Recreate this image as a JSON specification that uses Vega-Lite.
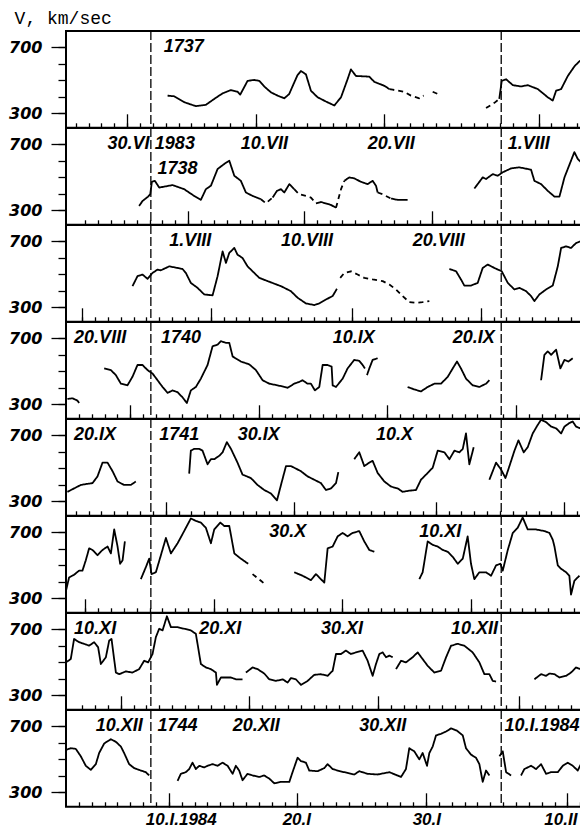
{
  "$schema": "https://vega.github.io/schema/vega-lite/v6.json",
  "padding": {"left": 7, "top": 10, "right": 0, "bottom": 0},
  "background": "white",
  "bounds": "flush",
  "spacing": 0,
  "title": {"text": "V, km/sec", "anchor": "start", "frame": "bounds", "dx": 7, "font": "Liberation Mono", "fontSize": 18, "fontWeight": "normal", "color": "black", "offset": 1},
  "config": {
    "view": {"stroke": "black", "strokeWidth": 2},
    "axis": {"domain": false, "grid": false, "tickColor": "black", "tickWidth": 1.3, "labelColor": "black", "title": null}
  },
  "datasets": {
    "crstart": [{"day": 0}, {"day": 27.25}],
    "labels": [
      {"panel": 1, "tier": "top", "day": 1.0, "text": "1737"},
      {"panel": 2, "tier": "top", "day": -3.38, "text": "30.VI"},
      {"panel": 2, "tier": "top", "day": 0.31, "text": "1983"},
      {"panel": 2, "tier": "top", "day": 7.0, "text": "10.VII"},
      {"panel": 2, "tier": "top", "day": 16.86, "text": "20.VII"},
      {"panel": 2, "tier": "top", "day": 27.76, "text": "1.VIII"},
      {"panel": 2, "tier": "second", "day": 0.52, "text": "1738"},
      {"panel": 3, "tier": "top", "day": 1.43, "text": "1.VIII"},
      {"panel": 3, "tier": "top", "day": 10.12, "text": "10.VIII"},
      {"panel": 3, "tier": "top", "day": 20.36, "text": "20.VIII"},
      {"panel": 4, "tier": "top", "day": -5.97, "text": "20.VIII"},
      {"panel": 4, "tier": "top", "day": 0.78, "text": "1740"},
      {"panel": 4, "tier": "top", "day": 14.14, "text": "10.IX"},
      {"panel": 4, "tier": "top", "day": 23.48, "text": "20.IX"},
      {"panel": 5, "tier": "top", "day": -5.97, "text": "20.IX"},
      {"panel": 5, "tier": "top", "day": 0.65, "text": "1741"},
      {"panel": 5, "tier": "top", "day": 6.75, "text": "30.IX"},
      {"panel": 5, "tier": "top", "day": 17.51, "text": "10.X"},
      {"panel": 6, "tier": "top", "day": 9.21, "text": "30.X"},
      {"panel": 6, "tier": "top", "day": 20.88, "text": "10.XI"},
      {"panel": 7, "tier": "top", "day": -5.97, "text": "10.XI"},
      {"panel": 7, "tier": "top", "day": 3.76, "text": "20.XI"},
      {"panel": 7, "tier": "top", "day": 13.23, "text": "30.XI"},
      {"panel": 7, "tier": "top", "day": 23.35, "text": "10.XII"},
      {"panel": 8, "tier": "top", "day": -4.28, "text": "10.XII"},
      {"panel": 8, "tier": "top", "day": 0.52, "text": "1744"},
      {"panel": 8, "tier": "top", "day": 6.36, "text": "20.XII"},
      {"panel": 8, "tier": "top", "day": 16.21, "text": "30.XII"},
      {"panel": 8, "tier": "top", "day": 27.5, "text": "10.I.1984"},
      {"panel": 8, "tier": "below", "day": -0.39, "text": "10.I.1984"},
      {"panel": 8, "tier": "below", "day": 10.25, "text": "20.I"},
      {"panel": 8, "tier": "below", "day": 20.36, "text": "30.I"},
      {"panel": 8, "tier": "below", "day": 30.6, "text": "10.II"}
    ],
    "speed": [
      {"panel":1,"seg":1,"style":"solid","day":1.3,"v":406},
      {"panel":1,"seg":1,"style":"solid","day":1.82,"v":402},
      {"panel":1,"seg":1,"style":"solid","day":2.59,"v":366},
      {"panel":1,"seg":1,"style":"solid","day":3.5,"v":342},
      {"panel":1,"seg":1,"style":"solid","day":4.28,"v":350},
      {"panel":1,"seg":1,"style":"solid","day":4.93,"v":386},
      {"panel":1,"seg":1,"style":"solid","day":5.58,"v":420},
      {"panel":1,"seg":1,"style":"solid","day":6.23,"v":440},
      {"panel":1,"seg":1,"style":"solid","day":6.74,"v":430},
      {"panel":1,"seg":1,"style":"solid","day":6.95,"v":412},
      {"panel":1,"seg":1,"style":"solid","day":7.52,"v":496},
      {"panel":1,"seg":1,"style":"solid","day":8.04,"v":502},
      {"panel":1,"seg":1,"style":"solid","day":8.43,"v":496},
      {"panel":1,"seg":1,"style":"solid","day":8.82,"v":462},
      {"panel":1,"seg":1,"style":"solid","day":9.34,"v":426},
      {"panel":1,"seg":1,"style":"solid","day":9.86,"v":406},
      {"panel":1,"seg":1,"style":"solid","day":10.38,"v":390},
      {"panel":1,"seg":1,"style":"solid","day":10.76,"v":416},
      {"panel":1,"seg":1,"style":"solid","day":11.15,"v":486},
      {"panel":1,"seg":1,"style":"solid","day":11.4,"v":530},
      {"panel":1,"seg":1,"style":"solid","day":11.67,"v":556},
      {"panel":1,"seg":1,"style":"solid","day":12.06,"v":536},
      {"panel":1,"seg":1,"style":"solid","day":12.45,"v":436},
      {"panel":1,"seg":1,"style":"solid","day":12.97,"v":396},
      {"panel":1,"seg":1,"style":"solid","day":13.62,"v":370},
      {"panel":1,"seg":1,"style":"solid","day":14.27,"v":346},
      {"panel":1,"seg":1,"style":"solid","day":14.79,"v":396},
      {"panel":1,"seg":1,"style":"solid","day":15.3,"v":506},
      {"panel":1,"seg":1,"style":"solid","day":15.56,"v":566},
      {"panel":1,"seg":1,"style":"solid","day":15.95,"v":526},
      {"panel":1,"seg":1,"style":"solid","day":16.99,"v":522},
      {"panel":1,"seg":1,"style":"solid","day":17.38,"v":490},
      {"panel":1,"seg":1,"style":"solid","day":18.16,"v":466},
      {"panel":1,"seg":1,"style":"solid","day":18.55,"v":446},
      {"panel":1,"seg":2,"style":"dash","day":18.55,"v":446},
      {"panel":1,"seg":2,"style":"dash","day":18.81,"v":442},
      {"panel":1,"seg":2,"style":"dash","day":19.69,"v":430},
      {"panel":1,"seg":2,"style":"dash","day":20.23,"v":406},
      {"panel":1,"seg":2,"style":"dash","day":20.88,"v":390},
      {"panel":1,"seg":2,"style":"dash","day":21.22,"v":406},
      {"panel":1,"seg":3,"style":"dash","day":21.92,"v":430},
      {"panel":1,"seg":3,"style":"dash","day":22.31,"v":416},
      {"panel":1,"seg":4,"style":"dash","day":26.07,"v":330},
      {"panel":1,"seg":4,"style":"dash","day":26.72,"v":362},
      {"panel":1,"seg":4,"style":"dash","day":27.1,"v":386},
      {"panel":1,"seg":5,"style":"solid","day":27.1,"v":386},
      {"panel":1,"seg":5,"style":"solid","day":27.29,"v":496},
      {"panel":1,"seg":5,"style":"solid","day":27.63,"v":506},
      {"panel":1,"seg":5,"style":"solid","day":28.15,"v":470},
      {"panel":1,"seg":5,"style":"solid","day":28.79,"v":462},
      {"panel":1,"seg":5,"style":"solid","day":29.31,"v":470},
      {"panel":1,"seg":5,"style":"solid","day":30.1,"v":446},
      {"panel":1,"seg":5,"style":"solid","day":30.87,"v":396},
      {"panel":1,"seg":5,"style":"solid","day":31.26,"v":376},
      {"panel":1,"seg":5,"style":"solid","day":31.52,"v":436},
      {"panel":1,"seg":5,"style":"solid","day":31.91,"v":446},
      {"panel":1,"seg":5,"style":"solid","day":32.43,"v":526},
      {"panel":1,"seg":5,"style":"solid","day":32.96,"v":586},
      {"panel":1,"seg":5,"style":"solid","day":33.34,"v":616},
      {"panel":1,"seg":5,"style":"solid","day":33.6,"v":630},

      {"panel":2,"seg":1,"style":"solid","day":-0.91,"v":325},
      {"panel":2,"seg":1,"style":"solid","day":-0.65,"v":355},
      {"panel":2,"seg":1,"style":"solid","day":-0.21,"v":382},
      {"panel":2,"seg":1,"style":"solid","day":-0.05,"v":396},
      {"panel":2,"seg":1,"style":"solid","day":0.08,"v":472},
      {"panel":2,"seg":1,"style":"solid","day":0.31,"v":478},
      {"panel":2,"seg":1,"style":"solid","day":0.65,"v":437},
      {"panel":2,"seg":1,"style":"solid","day":1.69,"v":452},
      {"panel":2,"seg":1,"style":"solid","day":2.59,"v":427},
      {"panel":2,"seg":1,"style":"solid","day":3.37,"v":386},
      {"panel":2,"seg":1,"style":"solid","day":3.89,"v":362},
      {"panel":2,"seg":1,"style":"solid","day":4.28,"v":427},
      {"panel":2,"seg":1,"style":"solid","day":4.67,"v":448},
      {"panel":2,"seg":1,"style":"solid","day":5.19,"v":550},
      {"panel":2,"seg":1,"style":"solid","day":5.71,"v":581},
      {"panel":2,"seg":1,"style":"solid","day":6.1,"v":601},
      {"panel":2,"seg":1,"style":"solid","day":6.49,"v":509},
      {"panel":2,"seg":1,"style":"solid","day":7.0,"v":478},
      {"panel":2,"seg":1,"style":"solid","day":7.39,"v":407},
      {"panel":2,"seg":1,"style":"solid","day":7.91,"v":386},
      {"panel":2,"seg":1,"style":"solid","day":8.56,"v":366},
      {"panel":2,"seg":2,"style":"dash","day":8.56,"v":366},
      {"panel":2,"seg":2,"style":"dash","day":8.95,"v":341},
      {"panel":2,"seg":2,"style":"dash","day":9.47,"v":376},
      {"panel":2,"seg":3,"style":"solid","day":9.47,"v":376},
      {"panel":2,"seg":3,"style":"solid","day":9.81,"v":417},
      {"panel":2,"seg":3,"style":"solid","day":10.12,"v":427},
      {"panel":2,"seg":3,"style":"solid","day":10.38,"v":407},
      {"panel":2,"seg":3,"style":"solid","day":10.77,"v":458},
      {"panel":2,"seg":3,"style":"solid","day":11.15,"v":427},
      {"panel":2,"seg":4,"style":"dash","day":11.15,"v":427},
      {"panel":2,"seg":4,"style":"dash","day":11.54,"v":396},
      {"panel":2,"seg":4,"style":"dash","day":12.06,"v":386},
      {"panel":2,"seg":4,"style":"dash","day":12.45,"v":376},
      {"panel":2,"seg":4,"style":"dash","day":12.84,"v":341},
      {"panel":2,"seg":5,"style":"solid","day":12.84,"v":341},
      {"panel":2,"seg":5,"style":"solid","day":13.23,"v":349},
      {"panel":2,"seg":5,"style":"solid","day":14.01,"v":331},
      {"panel":2,"seg":5,"style":"solid","day":14.4,"v":314},
      {"panel":2,"seg":6,"style":"dash","day":14.4,"v":314},
      {"panel":2,"seg":6,"style":"dash","day":14.79,"v":427},
      {"panel":2,"seg":6,"style":"dash","day":15.05,"v":478},
      {"panel":2,"seg":7,"style":"solid","day":15.05,"v":478},
      {"panel":2,"seg":7,"style":"solid","day":15.43,"v":499},
      {"panel":2,"seg":7,"style":"solid","day":15.82,"v":493},
      {"panel":2,"seg":7,"style":"solid","day":16.34,"v":472},
      {"panel":2,"seg":7,"style":"solid","day":16.86,"v":458},
      {"panel":2,"seg":7,"style":"solid","day":17.25,"v":478},
      {"panel":2,"seg":7,"style":"solid","day":17.51,"v":448},
      {"panel":2,"seg":7,"style":"solid","day":17.64,"v":407},
      {"panel":2,"seg":8,"style":"dash","day":17.64,"v":407},
      {"panel":2,"seg":8,"style":"dash","day":18.03,"v":396},
      {"panel":2,"seg":8,"style":"dash","day":18.68,"v":370},
      {"panel":2,"seg":9,"style":"solid","day":18.68,"v":370},
      {"panel":2,"seg":9,"style":"solid","day":19.2,"v":362},
      {"panel":2,"seg":9,"style":"solid","day":19.97,"v":362},
      {"panel":2,"seg":10,"style":"solid","day":25.16,"v":431},
      {"panel":2,"seg":10,"style":"solid","day":25.42,"v":458},
      {"panel":2,"seg":10,"style":"solid","day":25.81,"v":499},
      {"panel":2,"seg":10,"style":"solid","day":26.07,"v":489},
      {"panel":2,"seg":10,"style":"solid","day":26.59,"v":519},
      {"panel":2,"seg":10,"style":"solid","day":26.98,"v":509},
      {"panel":2,"seg":10,"style":"solid","day":27.37,"v":530},
      {"panel":2,"seg":10,"style":"solid","day":28.02,"v":554},
      {"panel":2,"seg":10,"style":"solid","day":28.66,"v":560},
      {"panel":2,"seg":10,"style":"solid","day":29.57,"v":546},
      {"panel":2,"seg":10,"style":"solid","day":29.83,"v":478},
      {"panel":2,"seg":10,"style":"solid","day":30.35,"v":458},
      {"panel":2,"seg":10,"style":"solid","day":30.87,"v":417},
      {"panel":2,"seg":10,"style":"solid","day":31.39,"v":382},
      {"panel":2,"seg":10,"style":"solid","day":31.78,"v":382},
      {"panel":2,"seg":10,"style":"solid","day":32.17,"v":499},
      {"panel":2,"seg":10,"style":"solid","day":32.68,"v":601},
      {"panel":2,"seg":10,"style":"solid","day":32.94,"v":653},
      {"panel":2,"seg":10,"style":"solid","day":33.2,"v":612},
      {"panel":2,"seg":10,"style":"solid","day":33.46,"v":591},

      {"panel":3,"seg":1,"style":"solid","day":-1.43,"v":427},
      {"panel":3,"seg":1,"style":"solid","day":-1.04,"v":488},
      {"panel":3,"seg":1,"style":"solid","day":-0.65,"v":498},
      {"panel":3,"seg":1,"style":"solid","day":-0.26,"v":472},
      {"panel":3,"seg":1,"style":"solid","day":0.13,"v":508},
      {"panel":3,"seg":1,"style":"solid","day":0.52,"v":528},
      {"panel":3,"seg":1,"style":"solid","day":0.78,"v":524},
      {"panel":3,"seg":1,"style":"solid","day":1.43,"v":548},
      {"panel":3,"seg":1,"style":"solid","day":2.08,"v":538},
      {"panel":3,"seg":1,"style":"solid","day":2.46,"v":532},
      {"panel":3,"seg":1,"style":"solid","day":2.72,"v":508},
      {"panel":3,"seg":1,"style":"solid","day":3.11,"v":447},
      {"panel":3,"seg":1,"style":"solid","day":3.63,"v":417},
      {"panel":3,"seg":1,"style":"solid","day":4.15,"v":377},
      {"panel":3,"seg":1,"style":"solid","day":4.8,"v":371},
      {"panel":3,"seg":1,"style":"solid","day":5.19,"v":488},
      {"panel":3,"seg":1,"style":"solid","day":5.58,"v":639},
      {"panel":3,"seg":1,"style":"solid","day":5.84,"v":569},
      {"panel":3,"seg":1,"style":"solid","day":6.1,"v":630},
      {"panel":3,"seg":1,"style":"solid","day":6.49,"v":660},
      {"panel":3,"seg":1,"style":"solid","day":6.74,"v":619},
      {"panel":3,"seg":1,"style":"solid","day":7.13,"v":599},
      {"panel":3,"seg":1,"style":"solid","day":7.52,"v":548},
      {"panel":3,"seg":1,"style":"solid","day":8.04,"v":508},
      {"panel":3,"seg":1,"style":"solid","day":8.43,"v":478},
      {"panel":3,"seg":1,"style":"solid","day":9.08,"v":458},
      {"panel":3,"seg":1,"style":"solid","day":10.12,"v":427},
      {"panel":3,"seg":1,"style":"solid","day":10.89,"v":397},
      {"panel":3,"seg":1,"style":"solid","day":11.41,"v":357},
      {"panel":3,"seg":1,"style":"solid","day":12.06,"v":322},
      {"panel":3,"seg":1,"style":"solid","day":12.71,"v":312},
      {"panel":3,"seg":1,"style":"solid","day":13.1,"v":322},
      {"panel":3,"seg":1,"style":"solid","day":13.62,"v":346},
      {"panel":3,"seg":1,"style":"solid","day":14.14,"v":367},
      {"panel":3,"seg":1,"style":"solid","day":14.47,"v":411},
      {"panel":3,"seg":2,"style":"dash","day":14.73,"v":478},
      {"panel":3,"seg":2,"style":"dash","day":15.05,"v":508},
      {"panel":3,"seg":2,"style":"dash","day":15.56,"v":518},
      {"panel":3,"seg":2,"style":"dash","day":16.08,"v":498},
      {"panel":3,"seg":2,"style":"dash","day":16.6,"v":478},
      {"panel":3,"seg":2,"style":"dash","day":17.25,"v":468},
      {"panel":3,"seg":2,"style":"dash","day":18.03,"v":458},
      {"panel":3,"seg":2,"style":"dash","day":18.55,"v":437},
      {"panel":3,"seg":2,"style":"dash","day":19.07,"v":407},
      {"panel":3,"seg":2,"style":"dash","day":19.58,"v":367},
      {"panel":3,"seg":2,"style":"dash","day":20.1,"v":330},
      {"panel":3,"seg":2,"style":"dash","day":20.62,"v":326},
      {"panel":3,"seg":2,"style":"dash","day":21.14,"v":330},
      {"panel":3,"seg":2,"style":"dash","day":21.66,"v":336},
      {"panel":3,"seg":3,"style":"solid","day":23.22,"v":532},
      {"panel":3,"seg":3,"style":"solid","day":23.74,"v":518},
      {"panel":3,"seg":3,"style":"solid","day":24.12,"v":468},
      {"panel":3,"seg":3,"style":"solid","day":24.38,"v":431},
      {"panel":3,"seg":3,"style":"solid","day":24.9,"v":431},
      {"panel":3,"seg":3,"style":"solid","day":25.42,"v":447},
      {"panel":3,"seg":3,"style":"solid","day":25.81,"v":538},
      {"panel":3,"seg":3,"style":"solid","day":26.2,"v":559},
      {"panel":3,"seg":3,"style":"solid","day":26.72,"v":538},
      {"panel":3,"seg":3,"style":"solid","day":27.29,"v":518},
      {"panel":3,"seg":3,"style":"solid","day":27.76,"v":447},
      {"panel":3,"seg":3,"style":"solid","day":28.28,"v":407},
      {"panel":3,"seg":3,"style":"solid","day":28.66,"v":417},
      {"panel":3,"seg":3,"style":"solid","day":29.18,"v":397},
      {"panel":3,"seg":3,"style":"solid","day":29.57,"v":367},
      {"panel":3,"seg":3,"style":"solid","day":29.83,"v":336},
      {"panel":3,"seg":3,"style":"solid","day":30.22,"v":377},
      {"panel":3,"seg":3,"style":"solid","day":30.74,"v":407},
      {"panel":3,"seg":3,"style":"solid","day":31.26,"v":431},
      {"panel":3,"seg":3,"style":"solid","day":31.65,"v":548},
      {"panel":3,"seg":3,"style":"solid","day":31.91,"v":660},
      {"panel":3,"seg":3,"style":"solid","day":32.3,"v":670},
      {"panel":3,"seg":3,"style":"solid","day":32.68,"v":660},
      {"panel":3,"seg":3,"style":"solid","day":33.07,"v":690},
      {"panel":3,"seg":3,"style":"solid","day":33.4,"v":700},

      {"panel":4,"seg":1,"style":"solid","day":-6.49,"v":331},
      {"panel":4,"seg":1,"style":"solid","day":-6.1,"v":335},
      {"panel":4,"seg":1,"style":"solid","day":-5.71,"v":321},
      {"panel":4,"seg":1,"style":"solid","day":-5.58,"v":306},
      {"panel":4,"seg":2,"style":"solid","day":-3.63,"v":517},
      {"panel":4,"seg":2,"style":"solid","day":-3.11,"v":507},
      {"panel":4,"seg":2,"style":"solid","day":-2.72,"v":476},
      {"panel":4,"seg":2,"style":"solid","day":-2.33,"v":424},
      {"panel":4,"seg":2,"style":"solid","day":-1.82,"v":414},
      {"panel":4,"seg":2,"style":"solid","day":-1.43,"v":466},
      {"panel":4,"seg":2,"style":"solid","day":-1.04,"v":538},
      {"panel":4,"seg":2,"style":"solid","day":-0.65,"v":538},
      {"panel":4,"seg":2,"style":"solid","day":-0.26,"v":507},
      {"panel":4,"seg":2,"style":"solid","day":0.13,"v":486},
      {"panel":4,"seg":2,"style":"solid","day":0.52,"v":445},
      {"panel":4,"seg":2,"style":"solid","day":0.91,"v":404},
      {"panel":4,"seg":2,"style":"solid","day":1.3,"v":368},
      {"panel":4,"seg":2,"style":"solid","day":1.69,"v":383},
      {"panel":4,"seg":2,"style":"solid","day":2.08,"v":372},
      {"panel":4,"seg":2,"style":"solid","day":2.46,"v":341},
      {"panel":4,"seg":2,"style":"solid","day":2.8,"v":306},
      {"panel":4,"seg":2,"style":"solid","day":3.11,"v":383},
      {"panel":4,"seg":2,"style":"solid","day":3.5,"v":404},
      {"panel":4,"seg":2,"style":"solid","day":3.89,"v":455},
      {"panel":4,"seg":2,"style":"solid","day":4.41,"v":538},
      {"panel":4,"seg":2,"style":"solid","day":4.8,"v":652},
      {"panel":4,"seg":2,"style":"solid","day":5.19,"v":662},
      {"panel":4,"seg":2,"style":"solid","day":5.45,"v":683},
      {"panel":4,"seg":2,"style":"solid","day":5.84,"v":673},
      {"panel":4,"seg":2,"style":"solid","day":6.1,"v":673},
      {"panel":4,"seg":2,"style":"solid","day":6.36,"v":590},
      {"panel":4,"seg":2,"style":"solid","day":7.0,"v":559},
      {"panel":4,"seg":2,"style":"solid","day":7.65,"v":542},
      {"panel":4,"seg":2,"style":"solid","day":8.17,"v":507},
      {"panel":4,"seg":2,"style":"solid","day":8.69,"v":445},
      {"panel":4,"seg":2,"style":"solid","day":9.21,"v":424},
      {"panel":4,"seg":2,"style":"solid","day":9.86,"v":414},
      {"panel":4,"seg":2,"style":"solid","day":10.64,"v":399},
      {"panel":4,"seg":2,"style":"solid","day":11.15,"v":424},
      {"panel":4,"seg":2,"style":"solid","day":11.54,"v":435},
      {"panel":4,"seg":2,"style":"solid","day":11.8,"v":445},
      {"panel":4,"seg":2,"style":"solid","day":12.19,"v":424},
      {"panel":4,"seg":2,"style":"solid","day":12.45,"v":424},
      {"panel":4,"seg":2,"style":"solid","day":12.76,"v":383},
      {"panel":4,"seg":2,"style":"solid","day":13.1,"v":404},
      {"panel":4,"seg":2,"style":"solid","day":13.36,"v":538},
      {"panel":4,"seg":2,"style":"solid","day":13.75,"v":538},
      {"panel":4,"seg":2,"style":"solid","day":14.06,"v":528},
      {"panel":4,"seg":2,"style":"solid","day":14.14,"v":414},
      {"panel":4,"seg":2,"style":"solid","day":14.4,"v":404},
      {"panel":4,"seg":2,"style":"solid","day":14.92,"v":455},
      {"panel":4,"seg":2,"style":"solid","day":15.3,"v":517},
      {"panel":4,"seg":2,"style":"solid","day":15.82,"v":569},
      {"panel":4,"seg":2,"style":"solid","day":16.21,"v":563},
      {"panel":4,"seg":2,"style":"solid","day":16.47,"v":538},
      {"panel":4,"seg":2,"style":"solid","day":16.65,"v":517},
      {"panel":4,"seg":3,"style":"solid","day":16.81,"v":476},
      {"panel":4,"seg":3,"style":"solid","day":16.99,"v":517},
      {"panel":4,"seg":3,"style":"solid","day":17.25,"v":569},
      {"panel":4,"seg":3,"style":"solid","day":17.64,"v":579},
      {"panel":4,"seg":4,"style":"solid","day":19.97,"v":404},
      {"panel":4,"seg":4,"style":"solid","day":20.49,"v":389},
      {"panel":4,"seg":4,"style":"solid","day":21.01,"v":377},
      {"panel":4,"seg":4,"style":"solid","day":21.53,"v":404},
      {"panel":4,"seg":4,"style":"solid","day":22.05,"v":424},
      {"panel":4,"seg":4,"style":"solid","day":22.57,"v":424},
      {"panel":4,"seg":4,"style":"solid","day":23.09,"v":466},
      {"panel":4,"seg":4,"style":"solid","day":23.48,"v":517},
      {"panel":4,"seg":4,"style":"solid","day":23.81,"v":559},
      {"panel":4,"seg":4,"style":"solid","day":24.12,"v":517},
      {"panel":4,"seg":4,"style":"solid","day":24.51,"v":455},
      {"panel":4,"seg":4,"style":"solid","day":25.03,"v":414},
      {"panel":4,"seg":4,"style":"solid","day":25.55,"v":404},
      {"panel":4,"seg":4,"style":"solid","day":26.07,"v":424},
      {"panel":4,"seg":4,"style":"solid","day":26.33,"v":445},
      {"panel":4,"seg":5,"style":"solid","day":30.35,"v":445},
      {"panel":4,"seg":5,"style":"solid","day":30.61,"v":600},
      {"panel":4,"seg":5,"style":"solid","day":30.87,"v":621},
      {"panel":4,"seg":5,"style":"solid","day":31.13,"v":600},
      {"panel":4,"seg":5,"style":"solid","day":31.52,"v":631},
      {"panel":4,"seg":5,"style":"solid","day":31.85,"v":517},
      {"panel":4,"seg":5,"style":"solid","day":32.17,"v":569},
      {"panel":4,"seg":5,"style":"solid","day":32.48,"v":559},
      {"panel":4,"seg":5,"style":"solid","day":32.81,"v":579},

      {"panel":5,"seg":1,"style":"solid","day":-6.49,"v":356},
      {"panel":5,"seg":1,"style":"solid","day":-5.97,"v":377},
      {"panel":5,"seg":1,"style":"solid","day":-5.45,"v":398},
      {"panel":5,"seg":1,"style":"solid","day":-4.93,"v":405},
      {"panel":5,"seg":1,"style":"solid","day":-4.54,"v":409},
      {"panel":5,"seg":1,"style":"solid","day":-4.15,"v":450},
      {"panel":5,"seg":1,"style":"solid","day":-3.76,"v":534},
      {"panel":5,"seg":1,"style":"solid","day":-3.37,"v":534},
      {"panel":5,"seg":1,"style":"solid","day":-2.98,"v":482},
      {"panel":5,"seg":1,"style":"solid","day":-2.59,"v":419},
      {"panel":5,"seg":1,"style":"solid","day":-2.08,"v":398},
      {"panel":5,"seg":1,"style":"solid","day":-1.56,"v":398},
      {"panel":5,"seg":1,"style":"solid","day":-1.17,"v":419},
      {"panel":5,"seg":2,"style":"solid","day":2.98,"v":467},
      {"panel":5,"seg":2,"style":"solid","day":3.11,"v":607},
      {"panel":5,"seg":2,"style":"solid","day":3.37,"v":618},
      {"panel":5,"seg":2,"style":"solid","day":3.76,"v":618},
      {"panel":5,"seg":2,"style":"solid","day":4.02,"v":607},
      {"panel":5,"seg":2,"style":"solid","day":4.41,"v":524},
      {"panel":5,"seg":2,"style":"solid","day":4.67,"v":555},
      {"panel":5,"seg":2,"style":"solid","day":4.93,"v":555},
      {"panel":5,"seg":2,"style":"solid","day":5.32,"v":576},
      {"panel":5,"seg":2,"style":"solid","day":5.58,"v":597},
      {"panel":5,"seg":2,"style":"solid","day":5.91,"v":659},
      {"panel":5,"seg":2,"style":"solid","day":6.23,"v":618},
      {"panel":5,"seg":2,"style":"solid","day":6.74,"v":534},
      {"panel":5,"seg":2,"style":"solid","day":7.13,"v":461},
      {"panel":5,"seg":2,"style":"solid","day":7.78,"v":440},
      {"panel":5,"seg":2,"style":"solid","day":8.3,"v":398},
      {"panel":5,"seg":2,"style":"solid","day":8.82,"v":367},
      {"panel":5,"seg":2,"style":"solid","day":9.34,"v":346},
      {"panel":5,"seg":2,"style":"solid","day":9.81,"v":304},
      {"panel":5,"seg":2,"style":"solid","day":10.12,"v":398},
      {"panel":5,"seg":2,"style":"solid","day":10.51,"v":513},
      {"panel":5,"seg":2,"style":"solid","day":10.89,"v":513},
      {"panel":5,"seg":2,"style":"solid","day":11.15,"v":503},
      {"panel":5,"seg":2,"style":"solid","day":11.67,"v":482},
      {"panel":5,"seg":2,"style":"solid","day":12.19,"v":450},
      {"panel":5,"seg":2,"style":"solid","day":12.71,"v":430},
      {"panel":5,"seg":2,"style":"solid","day":13.23,"v":409},
      {"panel":5,"seg":2,"style":"solid","day":13.62,"v":367},
      {"panel":5,"seg":2,"style":"solid","day":14.01,"v":377},
      {"panel":5,"seg":2,"style":"solid","day":14.4,"v":409},
      {"panel":5,"seg":2,"style":"solid","day":14.58,"v":476},
      {"panel":5,"seg":3,"style":"solid","day":15.82,"v":555},
      {"panel":5,"seg":3,"style":"solid","day":16.21,"v":597},
      {"panel":5,"seg":3,"style":"solid","day":16.6,"v":513},
      {"panel":5,"seg":3,"style":"solid","day":16.99,"v":534},
      {"panel":5,"seg":3,"style":"solid","day":17.25,"v":545},
      {"panel":5,"seg":3,"style":"solid","day":17.64,"v":471},
      {"panel":5,"seg":3,"style":"solid","day":18.16,"v":419},
      {"panel":5,"seg":3,"style":"solid","day":18.68,"v":388},
      {"panel":5,"seg":3,"style":"solid","day":19.2,"v":377},
      {"panel":5,"seg":3,"style":"solid","day":19.58,"v":356},
      {"panel":5,"seg":3,"style":"solid","day":20.1,"v":363},
      {"panel":5,"seg":3,"style":"solid","day":20.62,"v":367},
      {"panel":5,"seg":3,"style":"solid","day":21.01,"v":430},
      {"panel":5,"seg":3,"style":"solid","day":21.53,"v":471},
      {"panel":5,"seg":3,"style":"solid","day":21.92,"v":503},
      {"panel":5,"seg":3,"style":"solid","day":22.31,"v":607},
      {"panel":5,"seg":3,"style":"solid","day":22.83,"v":597},
      {"panel":5,"seg":3,"style":"solid","day":23.22,"v":555},
      {"panel":5,"seg":3,"style":"solid","day":23.61,"v":607},
      {"panel":5,"seg":3,"style":"solid","day":24.0,"v":597},
      {"panel":5,"seg":3,"style":"solid","day":24.26,"v":618},
      {"panel":5,"seg":3,"style":"solid","day":24.51,"v":712},
      {"panel":5,"seg":3,"style":"solid","day":24.77,"v":524},
      {"panel":5,"seg":3,"style":"solid","day":25.11,"v":628},
      {"panel":5,"seg":4,"style":"solid","day":26.33,"v":430},
      {"panel":5,"seg":4,"style":"solid","day":26.85,"v":534},
      {"panel":5,"seg":4,"style":"solid","day":27.24,"v":492},
      {"panel":5,"seg":4,"style":"solid","day":27.58,"v":440},
      {"panel":5,"seg":4,"style":"solid","day":27.89,"v":513},
      {"panel":5,"seg":4,"style":"solid","day":28.28,"v":607},
      {"panel":5,"seg":4,"style":"solid","day":28.59,"v":670},
      {"panel":5,"seg":4,"style":"solid","day":29.0,"v":597},
      {"panel":5,"seg":4,"style":"solid","day":29.31,"v":628},
      {"panel":5,"seg":4,"style":"solid","day":29.7,"v":712},
      {"panel":5,"seg":4,"style":"solid","day":30.09,"v":764},
      {"panel":5,"seg":4,"style":"solid","day":30.35,"v":795},
      {"panel":5,"seg":4,"style":"solid","day":30.74,"v":781},
      {"panel":5,"seg":4,"style":"solid","day":31.13,"v":754},
      {"panel":5,"seg":4,"style":"solid","day":31.52,"v":743},
      {"panel":5,"seg":4,"style":"solid","day":31.91,"v":712},
      {"panel":5,"seg":4,"style":"solid","day":32.17,"v":754},
      {"panel":5,"seg":4,"style":"solid","day":32.55,"v":775},
      {"panel":5,"seg":4,"style":"solid","day":32.81,"v":785},
      {"panel":5,"seg":4,"style":"solid","day":33.07,"v":754},
      {"panel":5,"seg":4,"style":"solid","day":33.4,"v":743},

      {"panel":6,"seg":1,"style":"solid","day":-6.61,"v":342},
      {"panel":6,"seg":1,"style":"solid","day":-6.36,"v":425},
      {"panel":6,"seg":1,"style":"solid","day":-5.97,"v":442},
      {"panel":6,"seg":1,"style":"solid","day":-5.58,"v":467},
      {"panel":6,"seg":1,"style":"solid","day":-5.32,"v":467},
      {"panel":6,"seg":1,"style":"solid","day":-5.06,"v":530},
      {"panel":6,"seg":1,"style":"solid","day":-4.8,"v":603},
      {"panel":6,"seg":1,"style":"solid","day":-4.54,"v":593},
      {"panel":6,"seg":1,"style":"solid","day":-4.15,"v":561},
      {"panel":6,"seg":1,"style":"solid","day":-3.76,"v":593},
      {"panel":6,"seg":1,"style":"solid","day":-3.37,"v":614},
      {"panel":6,"seg":1,"style":"solid","day":-3.11,"v":572},
      {"panel":6,"seg":1,"style":"solid","day":-2.85,"v":718},
      {"panel":6,"seg":1,"style":"solid","day":-2.59,"v":614},
      {"panel":6,"seg":1,"style":"solid","day":-2.39,"v":509},
      {"panel":6,"seg":1,"style":"solid","day":-2.2,"v":530},
      {"panel":6,"seg":1,"style":"solid","day":-2.02,"v":645},
      {"panel":6,"seg":2,"style":"solid","day":-0.78,"v":415},
      {"panel":6,"seg":2,"style":"solid","day":-0.39,"v":488},
      {"panel":6,"seg":2,"style":"solid","day":-0.13,"v":540},
      {"panel":6,"seg":2,"style":"solid","day":0.05,"v":446},
      {"panel":6,"seg":2,"style":"solid","day":0.39,"v":457},
      {"panel":6,"seg":2,"style":"solid","day":0.78,"v":561},
      {"panel":6,"seg":2,"style":"solid","day":1.17,"v":666},
      {"panel":6,"seg":2,"style":"solid","day":1.56,"v":572},
      {"panel":6,"seg":2,"style":"solid","day":2.08,"v":634},
      {"panel":6,"seg":2,"style":"solid","day":2.59,"v":708},
      {"panel":6,"seg":2,"style":"solid","day":3.11,"v":785},
      {"panel":6,"seg":2,"style":"solid","day":3.5,"v":770},
      {"panel":6,"seg":2,"style":"solid","day":3.89,"v":760},
      {"panel":6,"seg":2,"style":"solid","day":4.28,"v":728},
      {"panel":6,"seg":2,"style":"solid","day":4.67,"v":634},
      {"panel":6,"seg":2,"style":"solid","day":4.93,"v":718},
      {"panel":6,"seg":2,"style":"solid","day":5.4,"v":760},
      {"panel":6,"seg":2,"style":"solid","day":5.71,"v":739},
      {"panel":6,"seg":2,"style":"solid","day":6.1,"v":739},
      {"panel":6,"seg":2,"style":"solid","day":6.49,"v":572},
      {"panel":6,"seg":2,"style":"solid","day":7.0,"v":540},
      {"panel":6,"seg":2,"style":"solid","day":7.57,"v":509},
      {"panel":6,"seg":3,"style":"dash","day":7.91,"v":446},
      {"panel":6,"seg":3,"style":"dash","day":8.56,"v":405},
      {"panel":6,"seg":3,"style":"dash","day":8.95,"v":379},
      {"panel":6,"seg":4,"style":"solid","day":11.15,"v":457},
      {"panel":6,"seg":4,"style":"solid","day":11.8,"v":436},
      {"panel":6,"seg":4,"style":"solid","day":12.45,"v":409},
      {"panel":6,"seg":4,"style":"solid","day":12.84,"v":446},
      {"panel":6,"seg":4,"style":"solid","day":13.1,"v":425},
      {"panel":6,"seg":4,"style":"solid","day":13.49,"v":394},
      {"panel":6,"seg":4,"style":"solid","day":13.75,"v":603},
      {"panel":6,"seg":4,"style":"solid","day":14.14,"v":614},
      {"panel":6,"seg":4,"style":"solid","day":14.53,"v":676},
      {"panel":6,"seg":4,"style":"solid","day":14.92,"v":697},
      {"panel":6,"seg":4,"style":"solid","day":15.3,"v":676},
      {"panel":6,"seg":4,"style":"solid","day":15.69,"v":697},
      {"panel":6,"seg":4,"style":"solid","day":16.21,"v":708},
      {"panel":6,"seg":4,"style":"solid","day":16.6,"v":645},
      {"panel":6,"seg":4,"style":"solid","day":16.99,"v":593},
      {"panel":6,"seg":4,"style":"solid","day":17.38,"v":582},
      {"panel":6,"seg":5,"style":"solid","day":20.88,"v":415},
      {"panel":6,"seg":5,"style":"solid","day":21.14,"v":457},
      {"panel":6,"seg":5,"style":"solid","day":21.53,"v":645},
      {"panel":6,"seg":5,"style":"solid","day":21.92,"v":624},
      {"panel":6,"seg":5,"style":"solid","day":22.31,"v":614},
      {"panel":6,"seg":5,"style":"solid","day":22.7,"v":593},
      {"panel":6,"seg":5,"style":"solid","day":23.09,"v":582},
      {"panel":6,"seg":5,"style":"solid","day":23.48,"v":551},
      {"panel":6,"seg":5,"style":"solid","day":23.87,"v":509},
      {"panel":6,"seg":5,"style":"solid","day":24.26,"v":540},
      {"panel":6,"seg":5,"style":"solid","day":24.64,"v":676},
      {"panel":6,"seg":5,"style":"solid","day":24.9,"v":509},
      {"panel":6,"seg":5,"style":"solid","day":25.16,"v":415},
      {"panel":6,"seg":5,"style":"solid","day":25.55,"v":457},
      {"panel":6,"seg":5,"style":"solid","day":26.07,"v":457},
      {"panel":6,"seg":5,"style":"solid","day":26.46,"v":436},
      {"panel":6,"seg":5,"style":"solid","day":26.85,"v":499},
      {"panel":6,"seg":5,"style":"solid","day":27.19,"v":509},
      {"panel":6,"seg":5,"style":"solid","day":27.37,"v":467},
      {"panel":6,"seg":5,"style":"solid","day":27.76,"v":593},
      {"panel":6,"seg":5,"style":"solid","day":28.15,"v":697},
      {"panel":6,"seg":5,"style":"solid","day":28.53,"v":728},
      {"panel":6,"seg":5,"style":"solid","day":28.92,"v":791},
      {"panel":6,"seg":5,"style":"solid","day":29.31,"v":718},
      {"panel":6,"seg":5,"style":"solid","day":29.96,"v":718},
      {"panel":6,"seg":5,"style":"solid","day":30.61,"v":708},
      {"panel":6,"seg":5,"style":"solid","day":31.0,"v":697},
      {"panel":6,"seg":5,"style":"solid","day":31.26,"v":655},
      {"panel":6,"seg":5,"style":"solid","day":31.39,"v":614},
      {"panel":6,"seg":5,"style":"solid","day":31.65,"v":499},
      {"panel":6,"seg":5,"style":"solid","day":31.91,"v":478},
      {"panel":6,"seg":5,"style":"solid","day":32.3,"v":457},
      {"panel":6,"seg":5,"style":"solid","day":32.55,"v":436},
      {"panel":6,"seg":5,"style":"solid","day":32.68,"v":321},
      {"panel":6,"seg":5,"style":"solid","day":32.94,"v":405},
      {"panel":6,"seg":5,"style":"solid","day":33.33,"v":436},

      {"panel":7,"seg":1,"style":"solid","day":-6.61,"v":499},
      {"panel":7,"seg":1,"style":"solid","day":-6.23,"v":519},
      {"panel":7,"seg":1,"style":"solid","day":-5.97,"v":642},
      {"panel":7,"seg":1,"style":"solid","day":-5.58,"v":622},
      {"panel":7,"seg":1,"style":"solid","day":-5.19,"v":612},
      {"panel":7,"seg":1,"style":"solid","day":-4.8,"v":601},
      {"panel":7,"seg":1,"style":"solid","day":-4.41,"v":622},
      {"panel":7,"seg":1,"style":"solid","day":-4.1,"v":591},
      {"panel":7,"seg":1,"style":"solid","day":-3.89,"v":489},
      {"panel":7,"seg":1,"style":"solid","day":-3.5,"v":530},
      {"panel":7,"seg":1,"style":"solid","day":-3.24,"v":632},
      {"panel":7,"seg":1,"style":"solid","day":-3.06,"v":642},
      {"panel":7,"seg":1,"style":"solid","day":-2.72,"v":437},
      {"panel":7,"seg":1,"style":"solid","day":-2.46,"v":427},
      {"panel":7,"seg":1,"style":"solid","day":-1.95,"v":444},
      {"panel":7,"seg":1,"style":"solid","day":-1.43,"v":437},
      {"panel":7,"seg":1,"style":"solid","day":-0.91,"v":458},
      {"panel":7,"seg":1,"style":"solid","day":-0.52,"v":509},
      {"panel":7,"seg":1,"style":"solid","day":-0.21,"v":499},
      {"panel":7,"seg":1,"style":"solid","day":0.13,"v":550},
      {"panel":7,"seg":1,"style":"solid","day":0.39,"v":653},
      {"panel":7,"seg":1,"style":"solid","day":0.65,"v":704},
      {"panel":7,"seg":1,"style":"solid","day":0.91,"v":694},
      {"panel":7,"seg":1,"style":"solid","day":1.25,"v":780},
      {"panel":7,"seg":1,"style":"solid","day":1.56,"v":714},
      {"panel":7,"seg":1,"style":"solid","day":2.08,"v":714},
      {"panel":7,"seg":1,"style":"solid","day":2.59,"v":704},
      {"panel":7,"seg":1,"style":"solid","day":3.11,"v":694},
      {"panel":7,"seg":1,"style":"solid","day":3.5,"v":673},
      {"panel":7,"seg":1,"style":"solid","day":3.63,"v":612},
      {"panel":7,"seg":1,"style":"solid","day":3.89,"v":489},
      {"panel":7,"seg":1,"style":"solid","day":4.28,"v":468},
      {"panel":7,"seg":1,"style":"solid","day":4.67,"v":458},
      {"panel":7,"seg":1,"style":"solid","day":5.06,"v":437},
      {"panel":7,"seg":1,"style":"solid","day":5.14,"v":362},
      {"panel":7,"seg":1,"style":"solid","day":5.45,"v":407},
      {"panel":7,"seg":1,"style":"solid","day":5.84,"v":407},
      {"panel":7,"seg":1,"style":"solid","day":6.23,"v":407},
      {"panel":7,"seg":1,"style":"solid","day":6.61,"v":396},
      {"panel":7,"seg":1,"style":"solid","day":7.13,"v":396},
      {"panel":7,"seg":2,"style":"solid","day":7.39,"v":437},
      {"panel":7,"seg":2,"style":"solid","day":7.91,"v":468},
      {"panel":7,"seg":2,"style":"solid","day":8.3,"v":458},
      {"panel":7,"seg":2,"style":"solid","day":8.82,"v":431},
      {"panel":7,"seg":2,"style":"solid","day":9.21,"v":396},
      {"panel":7,"seg":2,"style":"solid","day":9.73,"v":386},
      {"panel":7,"seg":2,"style":"solid","day":10.25,"v":396},
      {"panel":7,"seg":2,"style":"solid","day":10.64,"v":376},
      {"panel":7,"seg":2,"style":"solid","day":10.89,"v":403},
      {"panel":7,"seg":2,"style":"solid","day":11.28,"v":396},
      {"panel":7,"seg":2,"style":"solid","day":11.67,"v":362},
      {"panel":7,"seg":2,"style":"solid","day":12.19,"v":386},
      {"panel":7,"seg":2,"style":"solid","day":12.71,"v":423},
      {"panel":7,"seg":2,"style":"solid","day":13.23,"v":427},
      {"panel":7,"seg":2,"style":"solid","day":13.75,"v":417},
      {"panel":7,"seg":2,"style":"solid","day":14.14,"v":448},
      {"panel":7,"seg":2,"style":"solid","day":14.4,"v":550},
      {"panel":7,"seg":2,"style":"solid","day":14.79,"v":550},
      {"panel":7,"seg":2,"style":"solid","day":15.17,"v":571},
      {"panel":7,"seg":2,"style":"solid","day":15.56,"v":550},
      {"panel":7,"seg":2,"style":"solid","day":15.95,"v":560},
      {"panel":7,"seg":2,"style":"solid","day":16.47,"v":571},
      {"panel":7,"seg":2,"style":"solid","day":16.86,"v":509},
      {"panel":7,"seg":2,"style":"solid","day":17.25,"v":417},
      {"panel":7,"seg":2,"style":"solid","day":17.51,"v":489},
      {"panel":7,"seg":2,"style":"solid","day":17.77,"v":550},
      {"panel":7,"seg":2,"style":"solid","day":18.03,"v":560},
      {"panel":7,"seg":2,"style":"solid","day":18.29,"v":530},
      {"panel":7,"seg":2,"style":"solid","day":18.55,"v":540},
      {"panel":7,"seg":2,"style":"solid","day":18.81,"v":530},
      {"panel":7,"seg":3,"style":"solid","day":19.07,"v":458},
      {"panel":7,"seg":3,"style":"solid","day":19.46,"v":509},
      {"panel":7,"seg":3,"style":"solid","day":19.84,"v":499},
      {"panel":7,"seg":3,"style":"solid","day":20.36,"v":530},
      {"panel":7,"seg":3,"style":"solid","day":20.75,"v":560},
      {"panel":7,"seg":3,"style":"solid","day":21.14,"v":519},
      {"panel":7,"seg":3,"style":"solid","day":21.53,"v":478},
      {"panel":7,"seg":3,"style":"solid","day":22.05,"v":437},
      {"panel":7,"seg":3,"style":"solid","day":22.57,"v":448},
      {"panel":7,"seg":3,"style":"solid","day":22.96,"v":530},
      {"panel":7,"seg":3,"style":"solid","day":23.35,"v":601},
      {"panel":7,"seg":3,"style":"solid","day":23.87,"v":612},
      {"panel":7,"seg":3,"style":"solid","day":24.38,"v":601},
      {"panel":7,"seg":3,"style":"solid","day":25.03,"v":560},
      {"panel":7,"seg":3,"style":"solid","day":25.55,"v":499},
      {"panel":7,"seg":3,"style":"solid","day":25.94,"v":427},
      {"panel":7,"seg":3,"style":"solid","day":26.33,"v":427},
      {"panel":7,"seg":3,"style":"solid","day":26.59,"v":386},
      {"panel":7,"seg":3,"style":"solid","day":26.85,"v":382},
      {"panel":7,"seg":4,"style":"solid","day":29.83,"v":396},
      {"panel":7,"seg":4,"style":"solid","day":30.35,"v":427},
      {"panel":7,"seg":4,"style":"solid","day":30.74,"v":417},
      {"panel":7,"seg":4,"style":"solid","day":31.0,"v":431},
      {"panel":7,"seg":4,"style":"solid","day":31.39,"v":427},
      {"panel":7,"seg":4,"style":"solid","day":31.78,"v":407},
      {"panel":7,"seg":4,"style":"solid","day":32.3,"v":417},
      {"panel":7,"seg":4,"style":"solid","day":32.68,"v":437},
      {"panel":7,"seg":4,"style":"solid","day":33.07,"v":468},
      {"panel":7,"seg":4,"style":"solid","day":33.4,"v":458},

      {"panel":8,"seg":1,"style":"solid","day":-6.61,"v":557},
      {"panel":8,"seg":1,"style":"solid","day":-6.23,"v":567},
      {"panel":8,"seg":1,"style":"solid","day":-5.84,"v":563},
      {"panel":8,"seg":1,"style":"solid","day":-5.45,"v":518},
      {"panel":8,"seg":1,"style":"solid","day":-5.06,"v":460},
      {"panel":8,"seg":1,"style":"solid","day":-4.67,"v":435},
      {"panel":8,"seg":1,"style":"solid","day":-4.28,"v":470},
      {"panel":8,"seg":1,"style":"solid","day":-4.02,"v":538},
      {"panel":8,"seg":1,"style":"solid","day":-3.63,"v":596},
      {"panel":8,"seg":1,"style":"solid","day":-3.11,"v":622},
      {"panel":8,"seg":1,"style":"solid","day":-2.72,"v":606},
      {"panel":8,"seg":1,"style":"solid","day":-2.33,"v":577},
      {"panel":8,"seg":1,"style":"solid","day":-2.08,"v":538},
      {"panel":8,"seg":1,"style":"solid","day":-1.69,"v":470},
      {"panel":8,"seg":1,"style":"solid","day":-1.3,"v":446},
      {"panel":8,"seg":1,"style":"solid","day":-0.78,"v":431},
      {"panel":8,"seg":1,"style":"solid","day":-0.39,"v":421},
      {"panel":8,"seg":1,"style":"solid","day":-0.13,"v":401},
      {"panel":8,"seg":2,"style":"solid","day":2.08,"v":368},
      {"panel":8,"seg":2,"style":"solid","day":2.33,"v":411},
      {"panel":8,"seg":2,"style":"solid","day":2.72,"v":421},
      {"panel":8,"seg":2,"style":"solid","day":2.98,"v":440},
      {"panel":8,"seg":2,"style":"solid","day":3.24,"v":479},
      {"panel":8,"seg":2,"style":"solid","day":3.5,"v":440},
      {"panel":8,"seg":2,"style":"solid","day":3.76,"v":460},
      {"panel":8,"seg":2,"style":"solid","day":4.15,"v":450},
      {"panel":8,"seg":2,"style":"solid","day":4.41,"v":460},
      {"panel":8,"seg":2,"style":"solid","day":4.8,"v":470},
      {"panel":8,"seg":2,"style":"solid","day":5.19,"v":460},
      {"panel":8,"seg":2,"style":"solid","day":5.58,"v":479},
      {"panel":8,"seg":2,"style":"solid","day":5.97,"v":460},
      {"panel":8,"seg":2,"style":"solid","day":6.36,"v":411},
      {"panel":8,"seg":2,"style":"solid","day":6.61,"v":460},
      {"panel":8,"seg":2,"style":"solid","day":6.87,"v":431},
      {"panel":8,"seg":2,"style":"solid","day":7.13,"v":372},
      {"panel":8,"seg":2,"style":"solid","day":7.52,"v":411},
      {"panel":8,"seg":2,"style":"solid","day":7.91,"v":401},
      {"panel":8,"seg":2,"style":"solid","day":8.43,"v":392},
      {"panel":8,"seg":2,"style":"solid","day":8.82,"v":401},
      {"panel":8,"seg":2,"style":"solid","day":9.21,"v":382},
      {"panel":8,"seg":2,"style":"solid","day":9.6,"v":353},
      {"panel":8,"seg":2,"style":"solid","day":10.12,"v":362},
      {"panel":8,"seg":2,"style":"solid","day":10.77,"v":362},
      {"panel":8,"seg":2,"style":"solid","day":11.02,"v":421},
      {"panel":8,"seg":2,"style":"solid","day":11.41,"v":509},
      {"panel":8,"seg":2,"style":"solid","day":11.67,"v":489},
      {"panel":8,"seg":2,"style":"solid","day":12.06,"v":479},
      {"panel":8,"seg":2,"style":"solid","day":12.32,"v":431},
      {"panel":8,"seg":2,"style":"solid","day":12.97,"v":427},
      {"panel":8,"seg":2,"style":"solid","day":13.49,"v":446},
      {"panel":8,"seg":2,"style":"solid","day":13.75,"v":470},
      {"panel":8,"seg":2,"style":"solid","day":14.14,"v":440},
      {"panel":8,"seg":2,"style":"solid","day":14.53,"v":431},
      {"panel":8,"seg":2,"style":"solid","day":15.04,"v":421},
      {"panel":8,"seg":2,"style":"solid","day":15.82,"v":407},
      {"panel":8,"seg":2,"style":"solid","day":16.21,"v":427},
      {"panel":8,"seg":2,"style":"solid","day":16.86,"v":411},
      {"panel":8,"seg":2,"style":"solid","day":17.64,"v":407},
      {"panel":8,"seg":2,"style":"solid","day":18.55,"v":421},
      {"panel":8,"seg":2,"style":"solid","day":19.46,"v":392},
      {"panel":8,"seg":2,"style":"solid","day":19.84,"v":440},
      {"panel":8,"seg":2,"style":"solid","day":20.1,"v":567},
      {"panel":8,"seg":2,"style":"solid","day":20.49,"v":548},
      {"panel":8,"seg":2,"style":"solid","day":20.88,"v":499},
      {"panel":8,"seg":2,"style":"solid","day":21.14,"v":538},
      {"panel":8,"seg":2,"style":"solid","day":21.48,"v":460},
      {"panel":8,"seg":2,"style":"solid","day":21.66,"v":538},
      {"panel":8,"seg":2,"style":"solid","day":21.92,"v":577},
      {"panel":8,"seg":2,"style":"solid","day":22.18,"v":645},
      {"panel":8,"seg":2,"style":"solid","day":22.57,"v":655},
      {"panel":8,"seg":2,"style":"solid","day":22.96,"v":669},
      {"panel":8,"seg":2,"style":"solid","day":23.35,"v":688},
      {"panel":8,"seg":2,"style":"solid","day":23.81,"v":674},
      {"panel":8,"seg":2,"style":"solid","day":24.26,"v":645},
      {"panel":8,"seg":2,"style":"solid","day":24.51,"v":567},
      {"panel":8,"seg":2,"style":"solid","day":24.9,"v":528},
      {"panel":8,"seg":2,"style":"solid","day":25.29,"v":509},
      {"panel":8,"seg":2,"style":"solid","day":25.55,"v":470},
      {"panel":8,"seg":2,"style":"solid","day":25.81,"v":362},
      {"panel":8,"seg":2,"style":"solid","day":26.07,"v":431},
      {"panel":8,"seg":2,"style":"solid","day":26.33,"v":401},
      {"panel":8,"seg":3,"style":"solid","day":27.11,"v":518},
      {"panel":8,"seg":3,"style":"solid","day":27.37,"v":548},
      {"panel":8,"seg":3,"style":"solid","day":27.63,"v":421},
      {"panel":8,"seg":3,"style":"solid","day":28.02,"v":401},
      {"panel":8,"seg":4,"style":"solid","day":28.79,"v":401},
      {"panel":8,"seg":4,"style":"solid","day":29.05,"v":440},
      {"panel":8,"seg":4,"style":"solid","day":29.57,"v":460},
      {"panel":8,"seg":4,"style":"solid","day":29.96,"v":440},
      {"panel":8,"seg":4,"style":"solid","day":30.35,"v":470},
      {"panel":8,"seg":4,"style":"solid","day":30.74,"v":411},
      {"panel":8,"seg":4,"style":"solid","day":31.13,"v":421},
      {"panel":8,"seg":4,"style":"solid","day":31.65,"v":421},
      {"panel":8,"seg":4,"style":"solid","day":32.04,"v":460},
      {"panel":8,"seg":4,"style":"solid","day":32.43,"v":479},
      {"panel":8,"seg":4,"style":"solid","day":32.81,"v":460},
      {"panel":8,"seg":4,"style":"solid","day":33.2,"v":431},
      {"panel":8,"seg":4,"style":"solid","day":33.45,"v":470}
    ]
  },
  "vconcat": [
    {"width": 522, "height": 96.8, "resolve": {"axis": {"x": "independent", "y": "independent"}}, "layer": [
      {"data": {"name": "speed"}, "transform": [{"filter": "datum.panel == 1"}],
       "mark": {"type": "line", "clip": true, "color": "black", "strokeWidth": 1.8, "strokeJoin": "round"},
       "encoding": {
         "x": {"field": "day", "type": "quantitative", "scale": {"domain": [-6.6, 34], "nice": false, "zero": false},
               "axis": {"orient": "bottom", "title": null, "labels": false, "values": [-6,-5,-4,-3,-2,-1,0,1,2,3,4,5,6,7,8,9,10,11,12,13,14,15,16,17,18,19,20,21,22,23,24,25,26,27,28,29,30,31,32,33], "tickOffset": 1.93, "tickSize": -5}},
         "y": {"field": "v", "type": "quantitative", "scale": {"domain": [210, 800], "nice": false, "zero": false},
               "axis": {"orient": "left", "title": null, "labels": false, "values": [300,400,500,600,700], "tickSize": 8}},
         "detail": {"field": "seg"},
         "strokeDash": {"field": "style", "type": "nominal", "scale": {"domain": ["solid", "dash"], "range": [[1, 0], [5, 4]]}, "legend": null}
       }},
      {"data": {"name": "crstart"}, "mark": {"type": "rule", "color": "black", "strokeWidth": 1.3, "strokeDash": [9, 3]},
       "encoding": {"x": {"field": "day", "type": "quantitative", "axis": {"orient": "bottom", "title": null, "labels": false, "values": [-2,8,18,30], "tickOffset": 1.93, "tickSize": -14}}}},
      {"data": {"name": "labels"}, "transform": [{"filter": "datum.panel == 1 && datum.tier == 'top'"}],
       "mark": {"type": "text", "align": "left", "baseline": "middle", "font": "Liberation Sans", "fontSize": 18, "fontWeight": "bold", "fontStyle": "italic", "color": "black"},
       "encoding": {"x": {"field": "day", "type": "quantitative", "axis": null},
                    "y": {"datum": 700, "type": "quantitative", "axis": {"orient": "left", "title": null, "values": [300, 700], "tickSize": 15, "labelPadding": 9, "labelFont": "DejaVu Sans", "labelFontSize": 16, "labelFontWeight": "bold", "labelFontStyle": "italic"}},
                    "text": {"field": "text"}}}
    ]},
    {"width": 522, "height": 96.8, "resolve": {"axis": {"x": "independent", "y": "independent"}}, "layer": [
      {"data": {"name": "speed"}, "transform": [{"filter": "datum.panel == 2"}],
       "mark": {"type": "line", "clip": true, "color": "black", "strokeWidth": 1.8, "strokeJoin": "round"},
       "encoding": {
         "x": {"field": "day", "type": "quantitative", "scale": {"domain": [-6.6, 34], "nice": false, "zero": false},
               "axis": {"orient": "bottom", "title": null, "labels": false, "values": [-6,-5,-4,-3,-2,-1,0,1,2,3,4,5,6,7,8,9,10,11,12,13,14,15,16,17,18,19,20,21,22,23,24,25,26,27,28,29,30,31,32,33], "tickOffset": 11.57, "tickSize": -5}},
         "y": {"field": "v", "type": "quantitative", "scale": {"domain": [210, 800], "nice": false, "zero": false},
               "axis": {"orient": "left", "title": null, "labels": false, "values": [300,400,500,600,700], "tickSize": 8}},
         "detail": {"field": "seg"},
         "strokeDash": {"field": "style", "type": "nominal", "scale": {"domain": ["solid", "dash"], "range": [[1, 0], [5, 4]]}, "legend": null}
       }},
      {"data": {"name": "crstart"}, "mark": {"type": "rule", "color": "black", "strokeWidth": 1.3, "strokeDash": [9, 3]},
       "encoding": {"x": {"field": "day", "type": "quantitative", "axis": {"orient": "bottom", "title": null, "labels": false, "values": [2,11,21], "tickOffset": 11.57, "tickSize": -14}}}},
      {"data": {"name": "labels"}, "transform": [{"filter": "datum.panel == 2 && datum.tier == 'top'"}],
       "mark": {"type": "text", "align": "left", "baseline": "middle", "font": "Liberation Sans", "fontSize": 18, "fontWeight": "bold", "fontStyle": "italic", "color": "black"},
       "encoding": {"x": {"field": "day", "type": "quantitative", "axis": null},
                    "y": {"datum": 700, "type": "quantitative", "axis": {"orient": "left", "title": null, "values": [300, 700], "tickSize": 15, "labelPadding": 9, "labelFont": "DejaVu Sans", "labelFontSize": 16, "labelFontWeight": "bold", "labelFontStyle": "italic"}},
                    "text": {"field": "text"}}},
      {"data": {"name": "labels"}, "transform": [{"filter": "datum.panel == 2 && datum.tier == 'second'"}],
       "mark": {"type": "text", "align": "left", "baseline": "middle", "font": "Liberation Sans", "fontSize": 18, "fontWeight": "bold", "fontStyle": "italic", "color": "black"},
       "encoding": {"x": {"field": "day", "type": "quantitative", "axis": null}, "y": {"datum": 552, "type": "quantitative", "axis": null}, "text": {"field": "text"}}}
    ]},
    {"width": 522, "height": 96.8, "resolve": {"axis": {"x": "independent", "y": "independent"}}, "layer": [
      {"data": {"name": "speed"}, "transform": [{"filter": "datum.panel == 3"}],
       "mark": {"type": "line", "clip": true, "color": "black", "strokeWidth": 1.8, "strokeJoin": "round"},
       "encoding": {
         "x": {"field": "day", "type": "quantitative", "scale": {"domain": [-6.6, 34], "nice": false, "zero": false},
               "axis": {"orient": "bottom", "title": null, "labels": false, "values": [-6,-5,-4,-3,-2,-1,0,1,2,3,4,5,6,7,8,9,10,11,12,13,14,15,16,17,18,19,20,21,22,23,24,25,26,27,28,29,30,31,32,33], "tickOffset": 8.36, "tickSize": -5}},
         "y": {"field": "v", "type": "quantitative", "scale": {"domain": [210, 800], "nice": false, "zero": false},
               "axis": {"orient": "left", "title": null, "labels": false, "values": [300,400,500,600,700], "tickSize": 8}},
         "detail": {"field": "seg"},
         "strokeDash": {"field": "style", "type": "nominal", "scale": {"domain": ["solid", "dash"], "range": [[1, 0], [5, 4]]}, "legend": null}
       }},
      {"data": {"name": "crstart"}, "mark": {"type": "rule", "color": "black", "strokeWidth": 1.3, "strokeDash": [9, 3]},
       "encoding": {"x": {"field": "day", "type": "quantitative", "axis": {"orient": "bottom", "title": null, "labels": false, "values": [-6,4,15,25], "tickOffset": 8.36, "tickSize": -14}}}},
      {"data": {"name": "labels"}, "transform": [{"filter": "datum.panel == 3 && datum.tier == 'top'"}],
       "mark": {"type": "text", "align": "left", "baseline": "middle", "font": "Liberation Sans", "fontSize": 18, "fontWeight": "bold", "fontStyle": "italic", "color": "black"},
       "encoding": {"x": {"field": "day", "type": "quantitative", "axis": null},
                    "y": {"datum": 700, "type": "quantitative", "axis": {"orient": "left", "title": null, "values": [300, 700], "tickSize": 15, "labelPadding": 9, "labelFont": "DejaVu Sans", "labelFontSize": 16, "labelFontWeight": "bold", "labelFontStyle": "italic"}},
                    "text": {"field": "text"}}}
    ]},
    {"width": 522, "height": 96.8, "resolve": {"axis": {"x": "independent", "y": "independent"}}, "layer": [
      {"data": {"name": "speed"}, "transform": [{"filter": "datum.panel == 4"}],
       "mark": {"type": "line", "clip": true, "color": "black", "strokeWidth": 1.8, "strokeJoin": "round"},
       "encoding": {
         "x": {"field": "day", "type": "quantitative", "scale": {"domain": [-6.6, 34], "nice": false, "zero": false},
               "axis": {"orient": "bottom", "title": null, "labels": false, "values": [-6,-5,-4,-3,-2,-1,0,1,2,3,4,5,6,7,8,9,10,11,12,13,14,15,16,17,18,19,20,21,22,23,24,25,26,27,28,29,30,31,32,33], "tickOffset": 5.14, "tickSize": -5}},
         "y": {"field": "v", "type": "quantitative", "scale": {"domain": [210, 800], "nice": false, "zero": false},
               "axis": {"orient": "left", "title": null, "labels": false, "values": [300,400,500,600,700], "tickSize": 8}},
         "detail": {"field": "seg"},
         "strokeDash": {"field": "style", "type": "nominal", "scale": {"domain": ["solid", "dash"], "range": [[1, 0], [5, 4]]}, "legend": null}
       }},
      {"data": {"name": "crstart"}, "mark": {"type": "rule", "color": "black", "strokeWidth": 1.3, "strokeDash": [9, 3]},
       "encoding": {"x": {"field": "day", "type": "quantitative", "axis": {"orient": "bottom", "title": null, "labels": false, "values": [-2,8,18,28], "tickOffset": 5.14, "tickSize": -14}}}},
      {"data": {"name": "labels"}, "transform": [{"filter": "datum.panel == 4 && datum.tier == 'top'"}],
       "mark": {"type": "text", "align": "left", "baseline": "middle", "font": "Liberation Sans", "fontSize": 18, "fontWeight": "bold", "fontStyle": "italic", "color": "black"},
       "encoding": {"x": {"field": "day", "type": "quantitative", "axis": null},
                    "y": {"datum": 700, "type": "quantitative", "axis": {"orient": "left", "title": null, "values": [300, 700], "tickSize": 15, "labelPadding": 9, "labelFont": "DejaVu Sans", "labelFontSize": 16, "labelFontWeight": "bold", "labelFontStyle": "italic"}},
                    "text": {"field": "text"}}}
    ]},
    {"width": 522, "height": 96.8, "resolve": {"axis": {"x": "independent", "y": "independent"}}, "layer": [
      {"data": {"name": "speed"}, "transform": [{"filter": "datum.panel == 5"}],
       "mark": {"type": "line", "clip": true, "color": "black", "strokeWidth": 1.8, "strokeJoin": "round"},
       "encoding": {
         "x": {"field": "day", "type": "quantitative", "scale": {"domain": [-6.6, 34], "nice": false, "zero": false},
               "axis": {"orient": "bottom", "title": null, "labels": false, "values": [-6,-5,-4,-3,-2,-1,0,1,2,3,4,5,6,7,8,9,10,11,12,13,14,15,16,17,18,19,20,21,22,23,24,25,26,27,28,29,30,31,32,33], "tickOffset": 1.93, "tickSize": -5}},
         "y": {"field": "v", "type": "quantitative", "scale": {"domain": [210, 800], "nice": false, "zero": false},
               "axis": {"orient": "left", "title": null, "labels": false, "values": [300,400,500,600,700], "tickSize": 8}},
         "detail": {"field": "seg"},
         "strokeDash": {"field": "style", "type": "nominal", "scale": {"domain": ["solid", "dash"], "range": [[1, 0], [5, 4]]}, "legend": null}
       }},
      {"data": {"name": "crstart"}, "mark": {"type": "rule", "color": "black", "strokeWidth": 1.3, "strokeDash": [9, 3]},
       "encoding": {"x": {"field": "day", "type": "quantitative", "axis": {"orient": "bottom", "title": null, "labels": false, "values": [1,11,22,32], "tickOffset": 1.93, "tickSize": -14}}}},
      {"data": {"name": "labels"}, "transform": [{"filter": "datum.panel == 5 && datum.tier == 'top'"}],
       "mark": {"type": "text", "align": "left", "baseline": "middle", "font": "Liberation Sans", "fontSize": 18, "fontWeight": "bold", "fontStyle": "italic", "color": "black"},
       "encoding": {"x": {"field": "day", "type": "quantitative", "axis": null},
                    "y": {"datum": 700, "type": "quantitative", "axis": {"orient": "left", "title": null, "values": [300, 700], "tickSize": 15, "labelPadding": 9, "labelFont": "DejaVu Sans", "labelFontSize": 16, "labelFontWeight": "bold", "labelFontStyle": "italic"}},
                    "text": {"field": "text"}}}
    ]},
    {"width": 522, "height": 96.8, "resolve": {"axis": {"x": "independent", "y": "independent"}}, "layer": [
      {"data": {"name": "speed"}, "transform": [{"filter": "datum.panel == 6"}],
       "mark": {"type": "line", "clip": true, "color": "black", "strokeWidth": 1.8, "strokeJoin": "round"},
       "encoding": {
         "x": {"field": "day", "type": "quantitative", "scale": {"domain": [-6.6, 34], "nice": false, "zero": false},
               "axis": {"orient": "bottom", "title": null, "labels": false, "values": [-6,-5,-4,-3,-2,-1,0,1,2,3,4,5,6,7,8,9,10,11,12,13,14,15,16,17,18,19,20,21,22,23,24,25,26,27,28,29,30,31,32,33], "tickOffset": 11.57, "tickSize": -5}},
         "y": {"field": "v", "type": "quantitative", "scale": {"domain": [210, 800], "nice": false, "zero": false},
               "axis": {"orient": "left", "title": null, "labels": false, "values": [300,400,500,600,700], "tickSize": 8}},
         "detail": {"field": "seg"},
         "strokeDash": {"field": "style", "type": "nominal", "scale": {"domain": ["solid", "dash"], "range": [[1, 0], [5, 4]]}, "legend": null}
       }},
      {"data": {"name": "crstart"}, "mark": {"type": "rule", "color": "black", "strokeWidth": 1.3, "strokeDash": [9, 3]},
       "encoding": {"x": {"field": "day", "type": "quantitative", "axis": {"orient": "bottom", "title": null, "labels": false, "values": [-6,4,14,24], "tickOffset": 11.57, "tickSize": -14}}}},
      {"data": {"name": "labels"}, "transform": [{"filter": "datum.panel == 6 && datum.tier == 'top'"}],
       "mark": {"type": "text", "align": "left", "baseline": "middle", "font": "Liberation Sans", "fontSize": 18, "fontWeight": "bold", "fontStyle": "italic", "color": "black"},
       "encoding": {"x": {"field": "day", "type": "quantitative", "axis": null},
                    "y": {"datum": 700, "type": "quantitative", "axis": {"orient": "left", "title": null, "values": [300, 700], "tickSize": 15, "labelPadding": 9, "labelFont": "DejaVu Sans", "labelFontSize": 16, "labelFontWeight": "bold", "labelFontStyle": "italic"}},
                    "text": {"field": "text"}}}
    ]},
    {"width": 522, "height": 96.8, "resolve": {"axis": {"x": "independent", "y": "independent"}}, "layer": [
      {"data": {"name": "speed"}, "transform": [{"filter": "datum.panel == 7"}],
       "mark": {"type": "line", "clip": true, "color": "black", "strokeWidth": 1.8, "strokeJoin": "round"},
       "encoding": {
         "x": {"field": "day", "type": "quantitative", "scale": {"domain": [-6.6, 34], "nice": false, "zero": false},
               "axis": {"orient": "bottom", "title": null, "labels": false, "values": [-6,-5,-4,-3,-2,-1,0,1,2,3,4,5,6,7,8,9,10,11,12,13,14,15,16,17,18,19,20,21,22,23,24,25,26,27,28,29,30,31,32,33], "tickOffset": 8.36, "tickSize": -5}},
         "y": {"field": "v", "type": "quantitative", "scale": {"domain": [210, 800], "nice": false, "zero": false},
               "axis": {"orient": "left", "title": null, "labels": false, "values": [300,400,500,600,700], "tickSize": 8}},
         "detail": {"field": "seg"},
         "strokeDash": {"field": "style", "type": "nominal", "scale": {"domain": ["solid", "dash"], "range": [[1, 0], [5, 4]]}, "legend": null}
       }},
      {"data": {"name": "crstart"}, "mark": {"type": "rule", "color": "black", "strokeWidth": 1.3, "strokeDash": [9, 3]},
       "encoding": {"x": {"field": "day", "type": "quantitative", "axis": {"orient": "bottom", "title": null, "labels": false, "values": [-3,7,17,28], "tickOffset": 8.36, "tickSize": -14}}}},
      {"data": {"name": "labels"}, "transform": [{"filter": "datum.panel == 7 && datum.tier == 'top'"}],
       "mark": {"type": "text", "align": "left", "baseline": "middle", "font": "Liberation Sans", "fontSize": 18, "fontWeight": "bold", "fontStyle": "italic", "color": "black"},
       "encoding": {"x": {"field": "day", "type": "quantitative", "axis": null},
                    "y": {"datum": 700, "type": "quantitative", "axis": {"orient": "left", "title": null, "values": [300, 700], "tickSize": 15, "labelPadding": 9, "labelFont": "DejaVu Sans", "labelFontSize": 16, "labelFontWeight": "bold", "labelFontStyle": "italic"}},
                    "text": {"field": "text"}}}
    ]},
    {"width": 522, "height": 96.8, "resolve": {"axis": {"x": "independent", "y": "independent"}}, "layer": [
      {"data": {"name": "speed"}, "transform": [{"filter": "datum.panel == 8"}],
       "mark": {"type": "line", "clip": true, "color": "black", "strokeWidth": 1.8, "strokeJoin": "round"},
       "encoding": {
         "x": {"field": "day", "type": "quantitative", "scale": {"domain": [-6.6, 34], "nice": false, "zero": false},
               "axis": {"orient": "bottom", "title": null, "labels": false, "values": [-6,-5,-4,-3,-2,-1,0,1,2,3,4,5,6,7,8,9,10,11,12,13,14,15,16,17,18,19,20,21,22,23,24,25,26,27,28,29,30,31,32,33], "tickOffset": 5.14, "tickSize": -5}},
         "y": {"field": "v", "type": "quantitative", "scale": {"domain": [210, 800], "nice": false, "zero": false},
               "axis": {"orient": "left", "title": null, "labels": false, "values": [300,400,500,600,700], "tickSize": 8}},
         "detail": {"field": "seg"},
         "strokeDash": {"field": "style", "type": "nominal", "scale": {"domain": ["solid", "dash"], "range": [[1, 0], [5, 4]]}, "legend": null}
       }},
      {"data": {"name": "crstart"}, "mark": {"type": "rule", "color": "black", "strokeWidth": 1.3, "strokeDash": [9, 3]},
       "encoding": {"x": {"field": "day", "type": "quantitative", "axis": {"orient": "bottom", "title": null, "labels": false, "values": [1,11,21,32], "tickOffset": 5.14, "tickSize": -14}}}},
      {"data": {"name": "labels"}, "transform": [{"filter": "datum.panel == 8 && datum.tier == 'top'"}],
       "mark": {"type": "text", "align": "left", "baseline": "middle", "font": "Liberation Sans", "fontSize": 18, "fontWeight": "bold", "fontStyle": "italic", "color": "black"},
       "encoding": {"x": {"field": "day", "type": "quantitative", "axis": null},
                    "y": {"datum": 700, "type": "quantitative", "axis": {"orient": "left", "title": null, "values": [300, 700], "tickSize": 15, "labelPadding": 9, "labelFont": "DejaVu Sans", "labelFontSize": 16, "labelFontWeight": "bold", "labelFontStyle": "italic"}},
                    "text": {"field": "text"}}},
      {"data": {"name": "labels"}, "transform": [{"filter": "datum.panel == 8 && datum.tier == 'below'"}],
       "mark": {"type": "text", "align": "left", "baseline": "alphabetic", "font": "Liberation Sans", "fontSize": 17, "fontWeight": "bold", "fontStyle": "italic", "color": "black"},
       "encoding": {"x": {"field": "day", "type": "quantitative", "axis": null}, "y": {"datum": 102, "type": "quantitative", "axis": null}, "text": {"field": "text"}}}
    ]}
  ]
}
